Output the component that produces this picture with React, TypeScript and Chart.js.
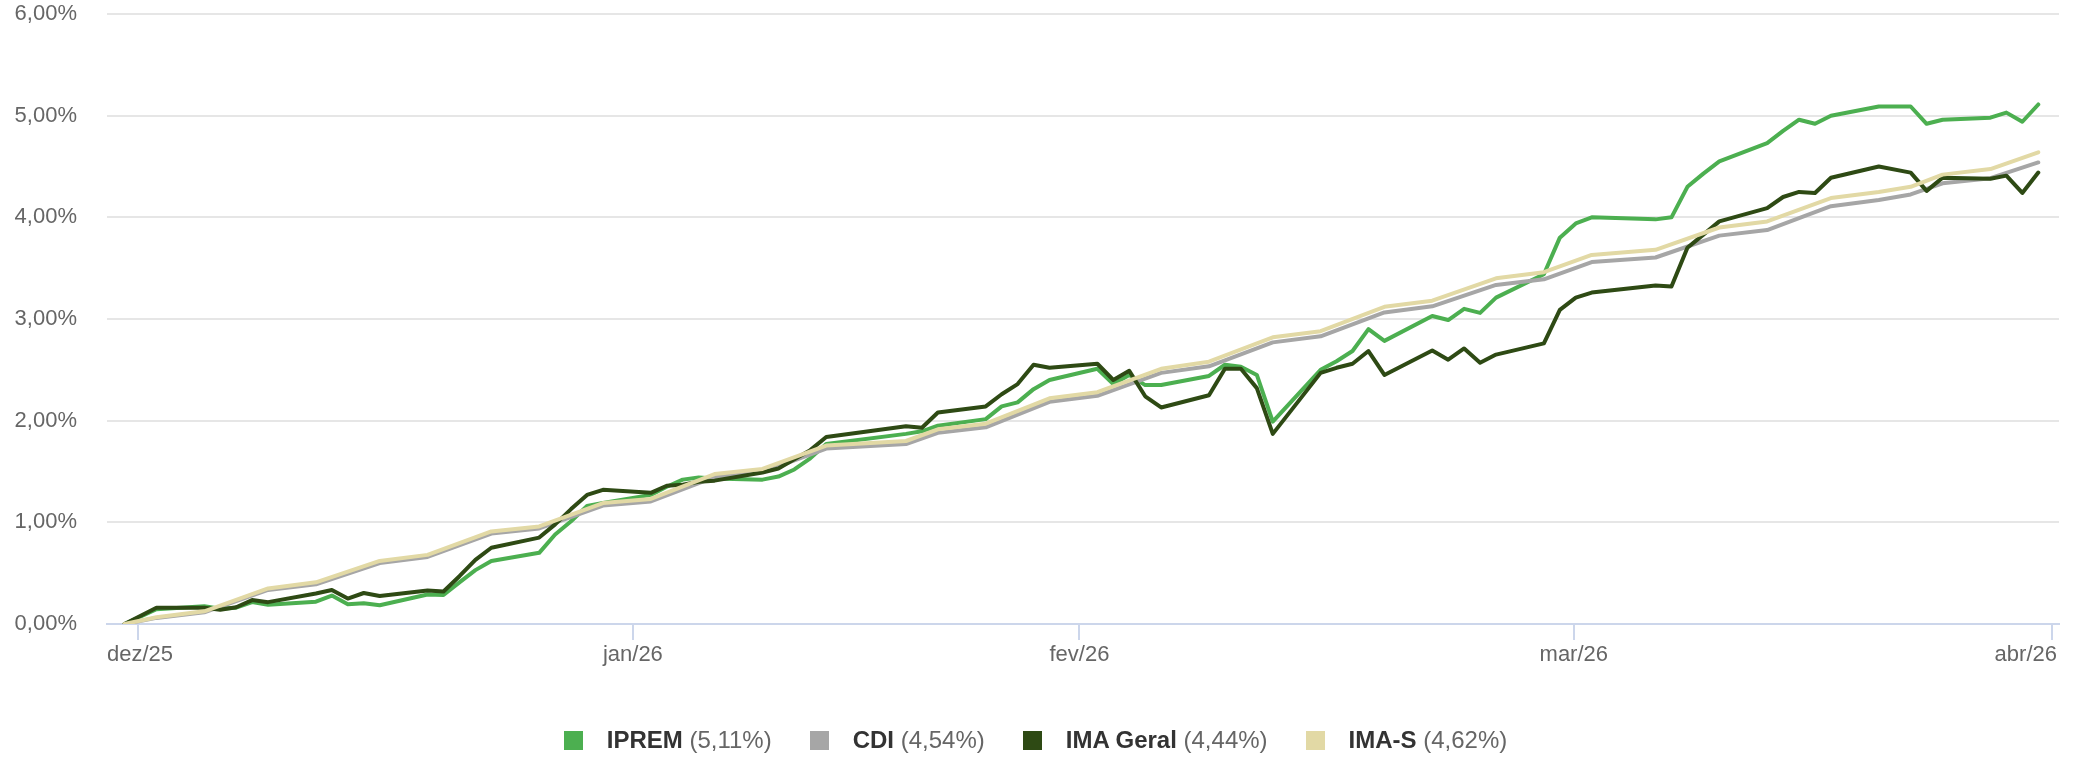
import React, { useEffect, useRef } from "react";
import { Chart, registerables } from "chart.js";

Chart.register(...registerables);

// x values are calendar days counted from 31/12/2025 (day 0)
const monthStartDays = [1, 32, 60, 91, 121];
const monthLabels = ["dez/25", "jan/26", "fev/26", "mar/26", "abr/26"];
const tickShiftDays = -0.125; // month ticks drawn 3h earlier (UTC-3)

const ipremDays = [0, 2, 5, 6, 7, 8, 9, 12, 13, 14, 15, 16, 19, 20, 21, 22, 23, 26, 27, 28, 29, 30, 33, 34, 35, 36, 37, 40, 41, 42, 43, 44, 49, 50, 51, 54, 55, 56, 57, 58, 61, 62, 63, 64, 65, 68, 69, 70, 71, 72, 75, 76, 77, 78, 79, 82, 83, 84, 85, 86, 89, 90, 91, 92, 96, 97, 98, 99, 100, 103, 104, 105, 106, 107, 110, 112, 113, 114, 117, 118, 119, 120];
const ipremValues = [0, 0.145, 0.175, 0.15, 0.16, 0.215, 0.19, 0.22, 0.28, 0.195, 0.205, 0.185, 0.29, 0.285, 0.41, 0.53, 0.62, 0.70, 0.88, 1.01, 1.16, 1.19, 1.27, 1.35, 1.42, 1.44, 1.43, 1.42, 1.45, 1.52, 1.63, 1.77, 1.87, 1.895, 1.95, 2.015, 2.14, 2.18, 2.31, 2.40, 2.51, 2.36, 2.45, 2.35, 2.35, 2.44, 2.55, 2.53, 2.45, 1.99, 2.50, 2.585, 2.685, 2.90, 2.785, 3.03, 2.99, 3.10, 3.06, 3.21, 3.44, 3.80, 3.94, 4.00, 3.98, 4.00, 4.30, 4.43, 4.55, 4.73, 4.85, 4.96, 4.92, 5.00, 5.09, 5.09, 4.92, 4.96, 4.98, 5.03, 4.94, 5.11];

const cdiDays = [0, 2, 5, 9, 12, 16, 19, 23, 26, 30, 33, 37, 40, 44, 49, 51, 54, 58, 61, 65, 68, 72, 75, 79, 82, 86, 89, 92, 96, 100, 103, 107, 110, 112, 114, 117, 120];
const cdiValues = [0, 0.06, 0.115, 0.335, 0.39, 0.60, 0.66, 0.89, 0.94, 1.165, 1.205, 1.445, 1.495, 1.725, 1.77, 1.88, 1.935, 2.185, 2.245, 2.47, 2.535, 2.77, 2.83, 3.065, 3.125, 3.335, 3.39, 3.56, 3.605, 3.82, 3.875, 4.11, 4.17, 4.225, 4.335, 4.385, 4.54];

const imaGeralDays = [0, 2, 5, 6, 7, 8, 9, 12, 13, 14, 15, 16, 19, 20, 21, 22, 23, 26, 27, 28, 29, 30, 33, 34, 35, 36, 37, 40, 41, 42, 43, 44, 49, 50, 51, 54, 55, 56, 57, 58, 61, 62, 63, 64, 65, 68, 69, 70, 71, 72, 75, 76, 77, 78, 79, 82, 83, 84, 85, 86, 89, 90, 91, 92, 96, 97, 98, 99, 100, 103, 104, 105, 106, 107, 110, 112, 113, 114, 117, 118, 119, 120];
const imaGeralValues = [0, 0.16, 0.16, 0.14, 0.165, 0.235, 0.215, 0.30, 0.335, 0.25, 0.305, 0.275, 0.33, 0.32, 0.47, 0.63, 0.75, 0.85, 0.98, 1.13, 1.27, 1.32, 1.29, 1.36, 1.37, 1.40, 1.41, 1.49, 1.53, 1.62, 1.71, 1.84, 1.945, 1.93, 2.08, 2.14, 2.26, 2.36, 2.55, 2.52, 2.56, 2.40, 2.49, 2.24, 2.13, 2.25, 2.51, 2.51, 2.32, 1.87, 2.47, 2.52, 2.56, 2.685, 2.45, 2.69, 2.60, 2.71, 2.57, 2.65, 2.76, 3.09, 3.21, 3.26, 3.33, 3.32, 3.70, 3.83, 3.96, 4.09, 4.20, 4.25, 4.24, 4.39, 4.50, 4.44, 4.26, 4.39, 4.38, 4.41, 4.24, 4.44];

const imaSDays = [0, 2, 5, 9, 12, 16, 19, 23, 26, 30, 33, 37, 40, 44, 49, 51, 54, 58, 61, 65, 68, 72, 75, 79, 82, 86, 89, 92, 96, 100, 103, 107, 110, 112, 114, 117, 120];
const imaSValues = [0, 0.066, 0.125, 0.35, 0.41, 0.62, 0.68, 0.91, 0.96, 1.19, 1.23, 1.475, 1.525, 1.755, 1.80, 1.915, 1.97, 2.22, 2.28, 2.51, 2.58, 2.82, 2.88, 3.12, 3.18, 3.40, 3.46, 3.63, 3.68, 3.90, 3.96, 4.19, 4.25, 4.30, 4.42, 4.475, 4.64];

const seriesNames = ["IPREM", "CDI", "IMA Geral", "IMA-S"];
const seriesTotals = ["5,11%", "4,54%", "4,44%", "4,62%"];
const seriesColors = ["#4caf50", "#a6a6a6", "#2e4a14", "#e2d9a5"];

const W = 2085;
const H = 758;
const FONT = "'Liberation Sans', Arial, Helvetica, sans-serif";

const pts = (days: number[], vals: number[]) => days.map((d, i) => ({ x: d, y: vals[i] }));

export default function App() {
  const ref = useRef<HTMLCanvasElement | null>(null);

  useEffect(() => {
    document.body.style.margin = "0";
    const canvas = ref.current!;
    const xLabelPlugin = {
      id: "xLabels",
      afterDraw(chart: any) {
        const ctx = chart.ctx;
        const xs = chart.scales.x;
        const area = chart.chartArea;
        ctx.save();
        ctx.font = `22px ${FONT}`;
        ctx.fillStyle = "#666666";
        ctx.textBaseline = "middle";
        ctx.textAlign = "center";
        monthStartDays.forEach((d, i) => {
          const label = monthLabels[i];
          const w = ctx.measureText(label).width;
          let x = xs.getPixelForValue(d + tickShiftDays);
          if (x + w / 2 > area.right - 2) x = area.right - 2 - w / 2;
          if (x - w / 2 < area.left) x = area.left + w / 2;
          ctx.fillText(label, x, area.bottom + 31);
        });
        ctx.restore();
      },
    };

    const data = [
      pts(ipremDays, ipremValues),
      pts(cdiDays, cdiValues),
      pts(imaGeralDays, imaGeralValues),
      pts(imaSDays, imaSValues),
    ];
    const orders = [4, 3, 2, 1];

    const chart = new Chart(canvas, {
      type: "line",
      data: {
        datasets: data.map((d, i) => ({
          label: seriesNames[i],
          data: d,
          borderColor: seriesColors[i],
          backgroundColor: seriesColors[i],
          borderWidth: 4,
          pointRadius: 0,
          tension: 0,
          fill: false,
          order: orders[i],
          borderJoinStyle: "round" as const,
          borderCapStyle: "round" as const,
        })),
      },
      options: {
        animation: false,
        responsive: false,
        devicePixelRatio: 1,
        parsing: false as any,
        layout: { padding: { top: 14, right: 26, left: 0, bottom: 0 } },
        plugins: { legend: { display: false }, tooltip: { enabled: false } },
        scales: {
          x: {
            type: "linear",
            min: -1.1,
            max: 121.3,
            afterBuildTicks: (s: any) => {
              s.ticks = monthStartDays.map((d) => ({ value: d + tickShiftDays }));
            },
            afterFit: (s: any) => {
              s.height = H - 624;
            },
            ticks: { display: false },
            grid: { drawOnChartArea: false, drawTicks: true, tickLength: 16, color: "#ccd6eb", lineWidth: 2 },
            border: { display: true, color: "#ccd6eb", width: 2 },
          },
          y: {
            min: 0,
            max: 6,
            afterFit: (s: any) => {
              s.width = 107;
            },
            ticks: {
              stepSize: 1,
              padding: 0,
              color: "#666666",
              font: { size: 22, family: FONT },
              callback: (v: any) => Number(v).toFixed(2).replace(".", ",") + "%",
            },
            grid: {
              color: "#e6e6e6",
              lineWidth: 2,
              drawTicks: true,
              tickLength: 30,
              tickColor: "rgba(0,0,0,0)",
            },
            border: { display: false },
          },
        },
      },
      plugins: [xLabelPlugin],
    });
    return () => chart.destroy();
  }, []);

  return (
    <div style={{ position: "relative", width: W, height: H, overflow: "hidden", background: "#fff" }}>
      <canvas ref={ref} width={W} height={H} style={{ display: "block", width: W, height: H }} />
      <div
        style={{
          position: "absolute",
          left: -7,
          top: 727,
          width: W,
          display: "flex",
          justifyContent: "center",
          alignItems: "center",
          fontFamily: FONT,
          fontSize: 24,
          lineHeight: "26px",
        }}
      >
        {seriesNames.map((n, i) => (
          <div key={n} style={{ display: "flex", alignItems: "center", marginRight: i < 3 ? 38 : 0 }}>
            <span style={{ display: "inline-block", width: 19, height: 19, background: seriesColors[i], marginRight: 24 }} />
            <span style={{ fontWeight: "bold", color: "#333333" }}>{n}</span>
            <span style={{ color: "#666666", whiteSpace: "pre" }}>{" (" + seriesTotals[i] + ")"}</span>
          </div>
        ))}
      </div>
    </div>
  );
}
